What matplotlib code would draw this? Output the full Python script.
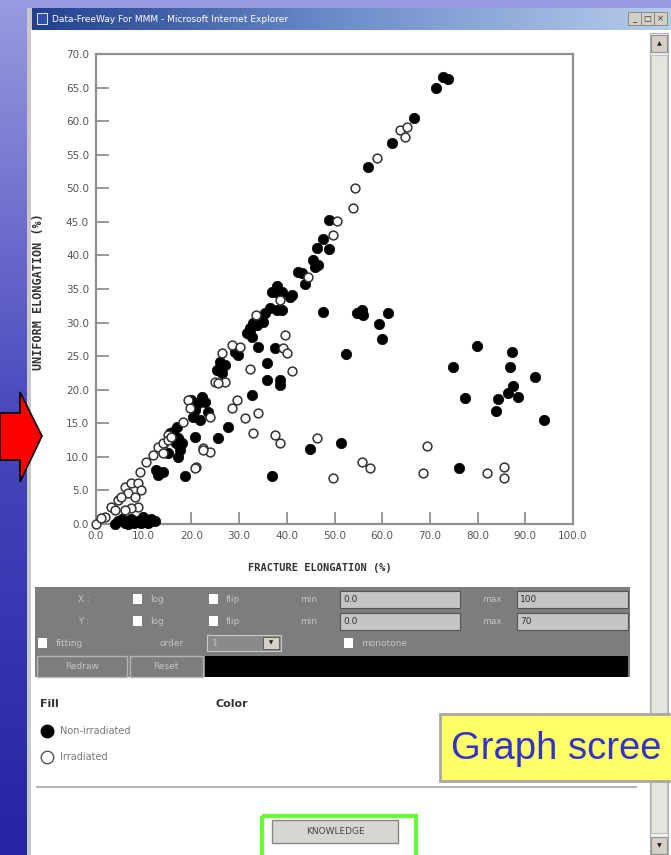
import numpy as np
import matplotlib
matplotlib.use('Agg')
import matplotlib.pyplot as plt
from matplotlib.patches import Rectangle, Polygon
from matplotlib.colors import LinearSegmentedColormap

# 非照射材 (塗りつぶし)
non_x = [72.7, 73.8, 71.3, 66.7, 62.0, 57.0, 48.8, 47.6, 46.3, 48.8, 45.5, 46.5, 45.9,
         42.3, 43.2, 43.9, 37.9, 36.9, 38.2, 40.7, 39.0, 41.0, 36.5, 37.9, 39.0, 35.4,
         34.4, 32.9, 32.3, 31.7, 32.7, 33.8, 35.0, 32.3, 47.6,
         29.1, 29.8, 26.0, 27.0, 25.4, 26.4, 34.0, 37.5, 35.8, 35.8, 38.6, 38.6, 32.7,
         22.2, 22.9, 21.2, 23.5, 20.3, 21.8, 19.9, 21.4, 20.8,
         27.7, 25.6, 20.8, 17.0, 16.1, 17.2, 18.0, 15.5, 16.8, 17.6, 15.1, 17.2,
         12.6, 14.0, 13.0, 18.7, 36.9, 44.9, 51.4, 76.1,
         54.7, 55.8, 56.0, 61.2, 59.3, 60.0, 52.4, 79.9, 87.2, 74.8, 86.8, 92.0,
         87.4, 86.4, 88.5, 84.3, 77.4, 83.9, 93.9,
         4.6, 6.1, 7.3, 8.8, 10.3, 11.5, 12.4, 4.0, 6.7, 9.4, 5.5, 9.8, 11.0, 8.0]
non_y = [66.6, 66.3, 65.0, 60.4, 56.8, 53.1, 45.3, 42.5, 41.1, 41.0, 39.3, 38.6, 38.3,
         37.6, 37.4, 35.7, 35.5, 34.6, 34.4, 33.8, 34.6, 34.1, 32.2, 31.9, 31.9, 31.4,
         30.7, 30.0, 29.2, 28.5, 27.9, 29.7, 30.1, 28.9, 31.6,
         25.6, 25.2, 24.1, 23.7, 23.0, 22.5, 26.4, 26.2, 24.0, 21.5, 21.5, 20.7, 19.2,
         18.9, 18.2, 18.0, 16.7, 15.9, 15.5, 18.5, 18.0, 17.0,
         14.5, 12.8, 13.0, 14.5, 13.7, 12.8, 12.1, 13.6, 12.1, 11.0, 10.6, 10.0,
         8.0, 7.7, 7.3, 7.2, 7.2, 11.2, 12.1, 8.3,
         31.4, 31.9, 31.1, 31.4, 29.8, 27.6, 25.3, 26.5, 25.6, 23.4, 23.4, 21.9,
         20.6, 19.5, 18.9, 18.6, 18.8, 16.8, 15.5,
         0.5, 0.2, 0.8, 0.5, 0.3, 0.8, 0.4, 0.0, 0.0, 0.1, 0.8, 1.0, 0.2, 0.1]

# 照射材 (白抜き)
irr_x = [63.7, 64.8, 65.2, 58.9, 54.3, 53.9, 50.5, 49.7,
         44.4, 38.6, 33.5, 39.6, 39.2, 32.3, 41.1, 40.0,
         28.5, 30.2, 26.4, 24.9, 27.0, 25.6,
         29.6, 28.5, 31.2, 34.0, 32.9, 37.5, 38.6, 22.4, 23.9, 21.0, 46.3,
         19.3, 19.7, 23.9, 18.2, 15.1, 14.0,
         49.7, 55.8, 57.4, 69.4, 68.6, 82.0, 85.5, 85.5,
         0.0, 1.9, 1.0, 3.1, 4.6, 4.0, 6.1, 7.3, 8.8, 6.7, 5.2, 8.2, 9.4, 8.8, 7.3, 6.1,
         9.2, 10.5, 11.9, 13.0, 14.0, 15.1, 14.0, 15.7, 20.8, 22.4]
irr_y = [58.7, 57.7, 59.2, 54.5, 50.0, 47.1, 45.2, 43.1,
         36.8, 33.4, 31.2, 28.2, 26.2, 23.1, 22.8, 25.5,
         26.7, 26.4, 25.5, 21.2, 21.2, 21.0,
         18.5, 17.3, 15.8, 16.5, 13.6, 13.3, 12.1, 11.3, 10.7, 8.5, 12.8,
         18.5, 17.3, 15.9, 15.2, 13.3, 11.8,
         6.9, 9.3, 8.3, 11.6, 7.6, 7.6, 8.5, 6.9,
         0.0, 1.0, 0.9, 2.5, 3.6, 2.1, 5.5, 6.1, 6.1, 4.6, 4.0, 4.0, 5.1, 2.5, 2.4, 2.1,
         7.7, 9.2, 10.3, 11.5, 12.1, 12.5, 10.6, 13.0, 8.3, 11.0]

x_ticks = [0, 10, 20, 30, 40, 50, 60, 70, 80, 90, 100]
x_labels = ['0.0', '10.0', '20.0', '30.0', '40.0', '50.0', '60.0', '70.0', '80.0', '90.0', '100.0']
y_ticks = [0, 5, 10, 15, 20, 25, 30, 35, 40, 45, 50, 55, 60, 65, 70]
y_labels = ['0.0', '5.0', '10.0', '15.0', '20.0', '25.0', '30.0', '35.0', '40.0', '45.0',
            '50.0', '55.0', '60.0', '65.0', '70.0']

W, H = 671, 855
fig = plt.figure(figsize=(W / 100, H / 100), dpi=100)

# 背景 (スライド + ウィンドウ)
bg = fig.add_axes([0, 0, 1, 1])
bg.set_xlim(0, W)
bg.set_ylim(H, 0)
bg.axis('off')

slide = LinearSegmentedColormap.from_list('slide', ['#9a9ae0', '#4646bc', '#2424a4'])
bg.imshow(np.linspace(0, 1, 256).reshape(-1, 1), extent=(0, W, H, 0), cmap=slide,
          aspect='auto', zorder=0)
title_cm = LinearSegmentedColormap.from_list('title', ['#23408e', '#6f8fcc', '#b6cdea'])
bg.imshow(np.linspace(0, 1, 256).reshape(1, -1), extent=(31, W, 30, 8), cmap=title_cm,
          aspect='auto', zorder=1)
bg.set_xlim(0, W)
bg.set_ylim(H, 0)

bg.add_patch(Rectangle((27, 8), 5, H, fc='#c8c8c8', ec='none', zorder=1))
bg.add_patch(Rectangle((31, 30), W - 31, H - 30, fc='white', ec='none', zorder=1))
bg.text(52, 19, 'Data-FreeWay For MMM - Microsoft Internet Explorer', color='white',
        fontsize=6.5, va='center', ha='left', zorder=2)
bg.add_patch(Rectangle((37, 13), 10, 11, fc='#3050b0', ec='white', lw=0.6, zorder=2))
for bx, sym in zip([628, 641, 654], ['_', '□', '×']):
    bg.add_patch(Rectangle((bx, 12), 13, 13, fc='#d4d0c8', ec='#808080', lw=0.6, zorder=2))
    bg.text(bx + 6.5, 18.5, sym, fontsize=6, ha='center', va='center', color='#333', zorder=3)

# スクロールバー
bg.add_patch(Rectangle((650, 33), 18, H - 33, fc='#f0f0f0', ec='#b0b0b0', lw=0.8, zorder=2))
bg.add_patch(Rectangle((651, 55), 16, 778, fc='#e6e4de', ec='#c0c0c0', lw=0.8, zorder=2))
bg.add_patch(Rectangle((651, 35), 16, 17, fc='#d4d0c8', ec='#909090', lw=0.8, zorder=3))
bg.text(659, 44, '▲', fontsize=4.5, ha='center', va='center', color='#222', zorder=4)
bg.add_patch(Rectangle((651, 837), 16, 17, fc='#d4d0c8', ec='#909090', lw=0.8, zorder=3))
bg.text(659, 846, '▼', fontsize=4.5, ha='center', va='center', color='#222', zorder=4)

# 操作パネル
ui_txt = dict(fontsize=6.5, va='center', color='#c4c4c4', zorder=4)
bg.add_patch(Rectangle((35, 587), 595, 90, fc='#7d7d7d', ec='none', zorder=2))
for ry, lab, vmin, vmax in [(599, 'X :', '0.0', '100'), (621, 'Y :', '0.0', '70')]:
    bg.text(78, ry, lab, ha='left', **ui_txt)
    bg.add_patch(Rectangle((133, ry - 5), 9, 10, fc='white', ec='none', zorder=3))
    bg.text(150, ry, 'log', ha='left', **ui_txt)
    bg.add_patch(Rectangle((209, ry - 5), 9, 10, fc='white', ec='none', zorder=3))
    bg.text(226, ry, 'flip', ha='left', **ui_txt)
    bg.text(300, ry, 'min', ha='left', **ui_txt)
    bg.add_patch(Rectangle((340, ry - 8), 120, 17, fc='#c4c4c4', ec='#555', lw=0.8, zorder=3))
    bg.text(343, ry, vmin, ha='left', fontsize=6.5, va='center', color='#333', zorder=4)
    bg.text(482, ry, 'max', ha='left', **ui_txt)
    bg.add_patch(Rectangle((517, ry - 8), 111, 17, fc='#c4c4c4', ec='#555', lw=0.8, zorder=3))
    bg.text(520, ry, vmax, ha='left', fontsize=6.5, va='center', color='#333', zorder=4)
bg.add_patch(Rectangle((38, 638), 9, 10, fc='white', ec='none', zorder=3))
bg.text(56, 643, 'fitting', ha='left', **ui_txt)
bg.text(160, 643, 'order', ha='left', **ui_txt)
bg.add_patch(Rectangle((207, 635), 74, 16, fc='#8a8a8a', ec='#c8c8c8', lw=0.8, zorder=3))
bg.text(212, 643, '1', ha='left', **ui_txt)
bg.add_patch(Rectangle((263, 637), 16, 12, fc='#d4d0c8', ec='#555', lw=0.6, zorder=4))
bg.text(271, 643, '▼', fontsize=4, ha='center', va='center', color='#222', zorder=5)
bg.add_patch(Rectangle((344, 638), 9, 10, fc='white', ec='none', zorder=3))
bg.text(361, 643, 'monotone', ha='left', **ui_txt)
bg.add_patch(Rectangle((37, 656), 90, 21, fc='#7d7d7d', ec='#b4b4b4', lw=1, zorder=3))
bg.text(82, 666, 'Redraw', ha='center', **ui_txt)
bg.add_patch(Rectangle((130, 656), 73, 21, fc='#7d7d7d', ec='#b4b4b4', lw=1, zorder=3))
bg.text(166, 666, 'Reset', ha='center', **ui_txt)
bg.add_patch(Rectangle((205, 656), 423, 21, fc='black', ec='none', zorder=3))

# 凡例
bg.text(40, 704, 'Fill', fontsize=8, fontweight='bold', color='#333', va='center', zorder=3)
bg.text(215, 704, 'Color', fontsize=8, fontweight='bold', color='#333', va='center', zorder=3)
bg.plot([47], [731], 'o', ms=9, color='black', zorder=3)
bg.text(60, 731, 'Non-irradiated', fontsize=7, color='#777', va='center', zorder=3)
bg.plot([47], [757], 'o', ms=9, mfc='white', mec='#555', mew=1, zorder=3)
bg.text(60, 757, 'Irradiated', fontsize=7, color='#777', va='center', zorder=3)
bg.plot([37, 636], [787, 787], color='#b4b4b4', lw=1.5, zorder=3)

# 黄色ラベル (元画像では右端で切れている)
bg.add_patch(Rectangle((440, 714), 240, 67, fc='#ffff66', ec='#a8a8a8', lw=2, zorder=5))
bg.text(451, 749, 'Graph scree', fontsize=27.5, color='#3333cc', va='center', ha='left',
        family='Liberation Sans', zorder=6)

# KNOWLEDGE ボタン
bg.add_patch(Rectangle((272, 820), 126, 23, fc='#d8d6d0', ec='#888', lw=1, zorder=3))
bg.text(335, 831, 'KNOWLEDGE', fontsize=6.5, color='#444', ha='center', va='center', zorder=4)
bg.add_patch(Rectangle((262, 816), 154, 45, fc='none', ec='#66ff33', lw=3, zorder=4))

# 赤い矢印
bg.add_patch(Polygon([(0, 413), (20, 413), (20, 392), (42, 436), (20, 482), (20, 460), (0, 460)],
                     closed=True, fc='#ff0000', ec='black', lw=1.2, zorder=6))

# 散布図
ax = fig.add_axes([96 / W, 1 - 524 / H, (573 - 96) / W, (524 - 54) / H])
ax.scatter(non_x, non_y, s=56, c='black', edgecolors='black', linewidths=0.5,
           clip_on=False, zorder=3)
ax.scatter(irr_x, irr_y, s=40, facecolors='white', edgecolors='#333333', linewidths=1.1,
           clip_on=False, zorder=4)
ax.set_xlim(0, 100)
ax.set_ylim(0, 70)
ax.set_xticks(x_ticks)
ax.set_xticklabels(x_labels)
ax.set_yticks(y_ticks)
ax.set_yticklabels(y_labels)
ax.tick_params(direction='in', length=9, width=1.2, color='#888888', labelsize=7.5,
               labelcolor='#555555', pad=5)
for s in ax.spines.values():
    s.set_color('#909090')
    s.set_linewidth(1.6)
ax.set_xlabel('FRACTURE ELONGATION (%)', fontsize=7.5, fontweight='bold', color='#333',
              family='DejaVu Sans Mono')
ax.set_ylabel('UNIFORM ELONGATION (%)', fontsize=8.5, fontweight='bold', color='#333',
              family='DejaVu Sans Mono')
ax.xaxis.set_label_coords(0.47, -0.083)
ax.yaxis.set_label_coords(-0.107, 0.494)

fig.savefig('out.png', dpi=100)
